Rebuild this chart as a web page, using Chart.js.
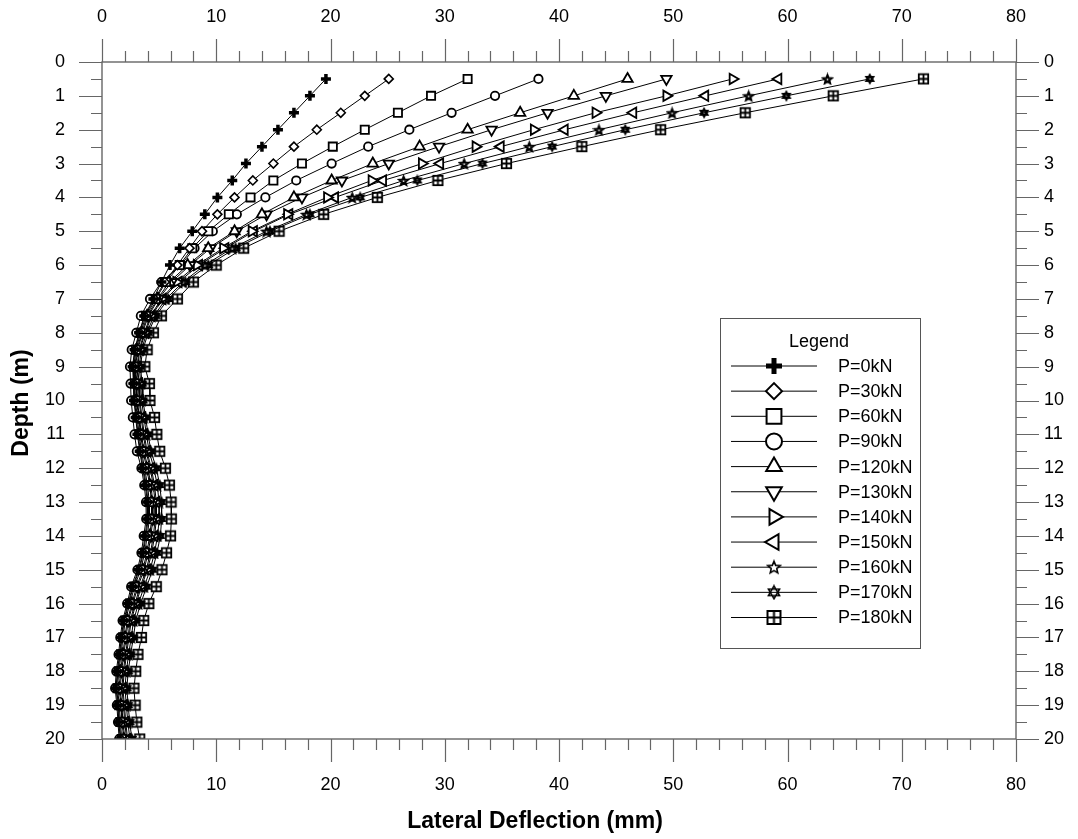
<!DOCTYPE html>
<html>
<head>
<meta charset="utf-8">
<script src="https://cdn.jsdelivr.net/npm/chart.js@4.4.1/dist/chart.umd.min.js"></script>
<style>
  html, body { margin: 0; padding: 0; background: #fff; }
</style>
</head>
<body>
<canvas id="chart" width="1078" height="839"></canvas>
<script>
// depth of every reading (m)
const depthM = [0.5, 1, 1.5, 2, 2.5, 3, 3.5, 4, 4.5, 5, 5.5, 6, 6.5, 7, 7.5, 8, 8.5, 9, 9.5, 10,
  10.5, 11, 11.5, 12, 12.5, 13, 13.5, 14, 14.5, 15, 15.5, 16, 16.5, 17, 17.5, 18, 18.5, 19, 19.5, 20];

const loadLabels = ['P=0kN', 'P=30kN', 'P=60kN', 'P=90kN', 'P=120kN', 'P=130kN',
  'P=140kN', 'P=150kN', 'P=160kN', 'P=170kN', 'P=180kN'];

// lateral deflection (mm), one array per load step
const defl0 = [19.6, 18.2, 16.8, 15.4, 14.0, 12.6, 11.4, 10.1, 9.0, 7.9, 6.8, 5.95, 5.2, 4.5, 3.7, 3.25, 2.85, 2.68, 2.75, 2.8,
  2.95, 3.1, 3.3, 3.55, 3.81, 3.96, 3.97, 3.77, 3.56, 3.21, 2.66, 2.3, 1.89, 1.69, 1.54, 1.34, 1.23, 1.38, 1.48, 1.59];
const defl30 = [25.1, 23.0, 20.9, 18.8, 16.8, 15.0, 13.2, 11.6, 10.1, 8.75, 7.66, 6.6, 5.5, 4.6, 3.75, 3.3, 2.9, 2.73, 2.8, 2.85,
  3.0, 3.16, 3.36, 3.62, 3.88, 4.03, 4.05, 3.84, 3.63, 3.27, 2.73, 2.35, 1.95, 1.75, 1.59, 1.39, 1.28, 1.43, 1.53, 1.64];
const defl60 = [32.0, 28.8, 25.9, 23.0, 20.2, 17.5, 15.0, 13.0, 11.1, 9.3, 7.9, 6.8, 5.6, 4.7, 3.85, 3.38, 2.97, 2.8, 2.88, 2.93,
  3.09, 3.25, 3.46, 3.72, 3.99, 4.14, 4.15, 3.96, 3.74, 3.38, 2.84, 2.45, 2.04, 1.84, 1.67, 1.47, 1.36, 1.51, 1.61, 1.73];
const defl90 = [38.2, 34.4, 30.6, 26.9, 23.3, 20.1, 17.0, 14.3, 11.8, 9.7, 8.1, 6.9, 5.2, 4.2, 3.4, 3.0, 2.6, 2.45, 2.5, 2.55,
  2.7, 2.85, 3.05, 3.45, 3.7, 3.85, 3.87, 3.65, 3.45, 3.1, 2.55, 2.2, 1.8, 1.6, 1.45, 1.25, 1.15, 1.3, 1.4, 1.5];
const defl120 = [46.0, 41.3, 36.6, 32.0, 27.8, 23.7, 20.1, 16.8, 14.0, 11.6, 9.3, 7.5, 5.9, 4.85, 3.95, 3.48, 3.05, 2.88, 2.98, 3.03,
  3.2, 3.37, 3.59, 3.91, 4.18, 4.33, 4.35, 4.17, 3.93, 3.57, 3.03, 2.62, 2.21, 2.01, 1.82, 1.62, 1.51, 1.65, 1.76, 1.9];
const defl130 = [49.4, 44.1, 39.0, 34.1, 29.5, 25.1, 21.0, 17.5, 14.4, 11.8, 9.5, 7.7, 6.1, 4.95, 4.05, 3.55, 3.12, 2.94, 3.05, 3.1,
  3.28, 3.45, 3.68, 4.02, 4.29, 4.44, 4.45, 4.28, 4.04, 3.68, 3.14, 2.71, 2.3, 2.1, 1.91, 1.71, 1.6, 1.73, 1.85, 1.99];
const defl140 = [55.2, 49.4, 43.2, 37.8, 32.7, 28.0, 23.6, 19.7, 16.2, 13.1, 10.6, 8.3, 6.5, 5.2, 4.25, 3.7, 3.25, 3.06, 3.18, 3.24,
  3.43, 3.61, 3.85, 4.21, 4.49, 4.64, 4.65, 4.5, 4.24, 3.87, 3.34, 2.88, 2.47, 2.27, 2.06, 1.86, 1.74, 1.88, 1.99, 2.15];
const defl150 = [59.2, 52.8, 46.5, 40.5, 34.9, 29.6, 24.6, 20.4, 16.4, 13.3, 10.8, 8.5, 6.7, 5.3, 4.35, 3.78, 3.32, 3.12, 3.25, 3.31,
  3.51, 3.7, 3.94, 4.31, 4.6, 4.75, 4.76, 4.61, 4.35, 3.98, 3.45, 2.98, 2.56, 2.36, 2.15, 1.95, 1.83, 1.96, 2.08, 2.24];
const defl160 = [63.5, 56.6, 49.9, 43.5, 37.4, 31.7, 26.4, 21.9, 17.9, 14.4, 11.4, 9.0, 7.1, 5.6, 4.55, 3.92, 3.45, 3.25, 3.4, 3.46,
  3.68, 3.88, 4.13, 4.54, 4.84, 4.99, 5.0, 4.87, 4.59, 4.22, 3.69, 3.19, 2.76, 2.56, 2.33, 2.13, 2.01, 2.13, 2.26, 2.44];
const defl170 = [67.2, 59.9, 52.7, 45.8, 39.4, 33.3, 27.6, 22.6, 18.2, 14.7, 11.7, 9.3, 7.3, 5.8, 4.7, 4.05, 3.57, 3.36, 3.52, 3.58,
  3.82, 4.03, 4.29, 4.75, 5.06, 5.21, 5.22, 5.11, 4.81, 4.43, 3.91, 3.38, 2.95, 2.75, 2.5, 2.3, 2.17, 2.29, 2.42, 2.62];
const defl180 = [71.9, 64.0, 56.3, 48.9, 42.0, 35.4, 29.4, 24.1, 19.4, 15.5, 12.4, 10.0, 8.0, 6.6, 5.2, 4.5, 3.95, 3.75, 4.15, 4.2,
  4.6, 4.8, 5.05, 5.55, 5.9, 6.05, 6.07, 6.0, 5.65, 5.25, 4.75, 4.1, 3.65, 3.45, 3.15, 2.95, 2.8, 2.9, 3.05, 3.3];

const deflections = [defl0, defl30, defl60, defl90, defl120, defl130, defl140, defl150, defl160, defl170, defl180];

const FONT = "'Liberation Sans', Arial, sans-serif";
const AXIS_COLOR = '#666';

// --- custom marker glyphs (star, hexagram, boxed plus) ---
function markerCanvas(size, lw, draw) {
    const c = document.createElement('canvas');
    c.width = size;
    c.height = size;
    const g = c.getContext('2d');
    g.strokeStyle = '#000';
    g.fillStyle = '#fff';
    g.lineWidth = lw;
    g.lineJoin = 'miter';
    draw(g, size / 2, size / 2 - lw);
    return c;
}

function star(size, lw) {
    return markerCanvas(size, lw, (g, c, R) => {
        g.beginPath();
        for (let i = 0; i < 10; i++) {
            const a = -Math.PI / 2 + i * Math.PI / 5;
            const r = i % 2 ? R * 0.45 : R;
            g.lineTo(c + r * Math.cos(a), c + r * Math.sin(a) + lw * 0.3);
        }
        g.closePath();
        g.fill();
        g.stroke();
    });
}

function hexagram(size, lw) {
    return markerCanvas(size, lw, (g, c, R) => {
        [-Math.PI / 2, Math.PI / 2].forEach(start => {
            g.beginPath();
            for (let i = 0; i < 3; i++) {
                const a = start + i * 2 * Math.PI / 3;
                g.lineTo(c + R * Math.cos(a), c + R * Math.sin(a));
            }
            g.closePath();
            g.stroke();
        });
    });
}

function boxPlus(size, lw) {
    return markerCanvas(size, lw, (g, c, R) => {
        g.fillRect(c - R, c - R, 2 * R, 2 * R);
        g.strokeRect(c - R, c - R, 2 * R, 2 * R);
        g.beginPath();
        g.moveTo(c - R, c);
        g.lineTo(c + R, c);
        g.moveTo(c, c - R);
        g.lineTo(c, c + R);
        g.stroke();
    });
}

// markers on the curves
const plotMarkers = [
    { pointStyle: 'cross', radius: 5, borderWidth: 3.5, rotation: 0 },
    { pointStyle: 'rectRot', radius: 4.5, borderWidth: 1.6, rotation: 0 },
    { pointStyle: 'rect', radius: 5.8, borderWidth: 1.8, rotation: 0 },
    { pointStyle: 'circle', radius: 4.2, borderWidth: 1.8, rotation: 0 },
    { pointStyle: 'triangle', radius: 6, borderWidth: 1.8, rotation: 0 },
    { pointStyle: 'triangle', radius: 6, borderWidth: 1.8, rotation: 180 },
    { pointStyle: 'triangle', radius: 6, borderWidth: 1.8, rotation: 90 },
    { pointStyle: 'triangle', radius: 6, borderWidth: 1.8, rotation: 270 },
    { pointStyle: star(13, 2.2), radius: 6, borderWidth: 1, rotation: 0 },
    { pointStyle: hexagram(12, 2.2), radius: 6, borderWidth: 1, rotation: 0 },
    { pointStyle: boxPlus(13, 1.8), radius: 6, borderWidth: 1, rotation: 0 }
];

// bigger versions for the legend box
const legendMarkers = [
    { pointStyle: 'cross', radius: 8, borderWidth: 5, rotation: 0 },
    { pointStyle: 'rectRot', radius: 8, borderWidth: 2, rotation: 0 },
    { pointStyle: 'rect', radius: 10.5, borderWidth: 2, rotation: 0 },
    { pointStyle: 'circle', radius: 8, borderWidth: 2, rotation: 0 },
    { pointStyle: 'triangle', radius: 9, borderWidth: 2, rotation: 0 },
    { pointStyle: 'triangle', radius: 9, borderWidth: 2, rotation: 180 },
    { pointStyle: 'triangle', radius: 9, borderWidth: 2, rotation: 90 },
    { pointStyle: 'triangle', radius: 9, borderWidth: 2, rotation: 270 },
    { pointStyle: star(16, 1.6), radius: 8, borderWidth: 1, rotation: 0 },
    { pointStyle: hexagram(16, 1.6), radius: 8, borderWidth: 1, rotation: 0 },
    { pointStyle: boxPlus(17, 2), radius: 8, borderWidth: 1, rotation: 0 }
];

// frame + outward tick marks on all four sides
const frameTicks = {
    id: 'frameTicks',
    afterDraw(chart) {
        const { ctx, chartArea: a, scales } = chart;
        ctx.save();
        ctx.strokeStyle = AXIS_COLOR;
        ctx.lineWidth = 1.4;
        ctx.strokeRect(a.left, a.top, a.right - a.left, a.bottom - a.top);
        ctx.lineWidth = 1.2;
        ctx.beginPath();
        ['x', 'x2'].forEach(id => {
            const s = scales[id];
            const y0 = id === 'x' ? a.bottom : a.top;
            const dir = id === 'x' ? 1 : -1;
            s.ticks.forEach(t => {
                const px = Math.round(s.getPixelForValue(t.value)) + 0.5;
                const len = t.value % 10 === 0 ? 23 : 11;
                ctx.moveTo(px, y0);
                ctx.lineTo(px, y0 + dir * len);
            });
        });
        ['y', 'y2'].forEach(id => {
            const s = scales[id];
            const x0 = id === 'y' ? a.left : a.right;
            const dir = id === 'y' ? -1 : 1;
            s.ticks.forEach(t => {
                const py = Math.round(s.getPixelForValue(t.value)) + 0.5;
                const len = Number.isInteger(t.value) ? 23 : 11;
                ctx.moveTo(x0, py);
                ctx.lineTo(x0 + dir * len, py);
            });
        });
        ctx.stroke();

        // axis titles
        ctx.fillStyle = '#000';
        ctx.font = `bold 23px ${FONT}`;
        ctx.textAlign = 'center';
        ctx.textBaseline = 'middle';
        ctx.fillText('Lateral Deflection (mm)', 535, 822);
        ctx.translate(22, 403);
        ctx.rotate(-Math.PI / 2);
        ctx.fillText('Depth (m)', 0, 0);
        ctx.restore();
    }
};

// boxed legend inside the plot
const legendBox = {
    id: 'legendBox',
    afterDraw(chart) {
        const ctx = chart.ctx;
        const box = { left: 720, top: 318, right: 920, bottom: 648 };
        ctx.save();
        ctx.fillStyle = '#fff';
        ctx.fillRect(box.left, box.top, box.right - box.left, box.bottom - box.top);
        ctx.strokeStyle = '#555';
        ctx.lineWidth = 1;
        ctx.strokeRect(box.left + 0.5, box.top + 0.5, box.right - box.left, box.bottom - box.top);

        ctx.fillStyle = '#000';
        ctx.font = `18px ${FONT}`;
        ctx.textAlign = 'center';
        ctx.textBaseline = 'middle';
        ctx.fillText('Legend', 819, 342);

        chart.data.datasets.forEach((ds, i) => {
            const y = 366 + i * 25.15;
            ctx.strokeStyle = '#000';
            ctx.lineWidth = 1;
            ctx.beginPath();
            ctx.moveTo(731, y);
            ctx.lineTo(817, y);
            ctx.stroke();

            const m = legendMarkers[i];
            ctx.lineWidth = m.borderWidth;
            ctx.fillStyle = '#fff';
            Chart.helpers.drawPoint(ctx, m, 774, y);

            ctx.fillStyle = '#000';
            ctx.textAlign = 'left';
            ctx.fillText(ds.label, 838, y + 1);
        });
        ctx.restore();
    }
};

function axisOptions(position, fixedSize, pad) {
    const horizontal = position === 'top' || position === 'bottom';
    return {
        type: 'linear',
        display: true,
        position: position,
        min: 0,
        max: horizontal ? 80 : 20,
        reverse: !horizontal,
        grid: { display: false, drawTicks: false },
        border: { display: false },
        ticks: {
            stepSize: horizontal ? 2 : 0.5,
            autoSkip: false,
            maxRotation: 0,
            padding: pad,
            color: '#000',
            font: { size: 18, family: FONT },
            callback: v => horizontal ? (v % 10 === 0 ? v : '') : (Number.isInteger(v) ? v : '')
        },
        afterFit: s => {
            if (horizontal) s.height = fixedSize; else s.width = fixedSize;
        }
    };
}

new Chart(document.getElementById('chart'), {
    type: 'scatter',
    data: {
        datasets: deflections.map((vals, i) => ({
            label: loadLabels[i],
            data: vals.map((v, j) => ({ x: v, y: depthM[j] })),
            xAxisID: 'x',
            yAxisID: 'y',
            showLine: true,
            borderColor: '#000',
            borderWidth: 1,
            pointStyle: plotMarkers[i].pointStyle,
            pointRadius: plotMarkers[i].radius,
            pointBorderWidth: plotMarkers[i].borderWidth,
            pointRotation: plotMarkers[i].rotation,
            pointBackgroundColor: '#fff',
            pointBorderColor: '#000'
        }))
    },
    options: {
        responsive: false,
        animation: false,
        layout: { padding: 0 },
        plugins: {
            legend: { display: false },
            tooltip: { enabled: false }
        },
        scales: {
            x: axisOptions('bottom', 100, 35),
            x2: axisOptions('top', 62, 34),
            y: axisOptions('left', 102, 37),
            y2: axisOptions('right', 62, 28)
        }
    },
    plugins: [frameTicks, legendBox]
});
</script>
</body>
</html>
